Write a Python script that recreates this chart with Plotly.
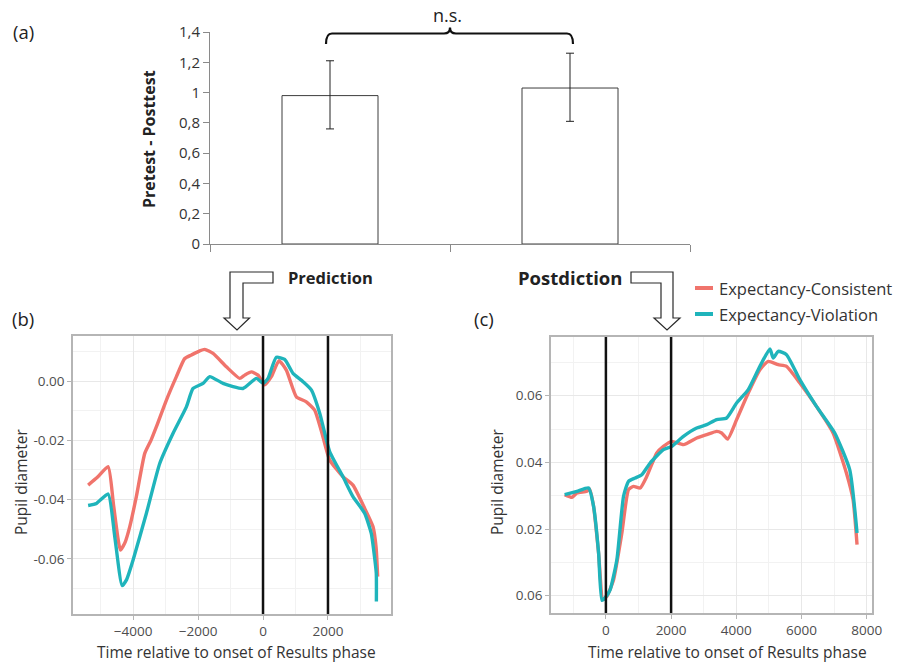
import plotly.graph_objects as go

W, H = 899, 663

# ---------------- data ----------------
# Panel (a)
conditions = ["Prediction", "Postdiction"]
diff_mean = [0.98, 1.03]
diff_upper = [1.21, 1.26]
diff_lower = [0.76, 0.81]
a_tickvals = [0, 0.2, 0.4, 0.6, 0.8, 1.0, 1.2, 1.4]
a_ticktext = ["0", "0,2", "0,4", "0,6", "0,8", "1", "1,2", "1,4"]
sig_label = "n.s."

series_names = ["Expectancy-Consistent", "Expectancy-Violation"]
series_colors = ["#F0746C", "#1FB4BB"]

# Panel (b) - Prediction
b_cons_t = [-5384, -5100, -4769, -4600, -4390, -4250, -4102, -3900, -3641, -3450, -3282,
            -2974, -2667, -2410, -2205, -1950, -1795, -1538, -1128, -718, -564, -359,
            -154, 51, 256, 492, 718, 1026, 1333, 1590, 1800, 2051, 2462, 2769, 3128,
            3385, 3480, 3530]
b_cons_y = [-0.0351, -0.0325, -0.0289, -0.0420, -0.0570, -0.0545, -0.0491, -0.0390,
            -0.0244, -0.0200, -0.0154, -0.0064, 0.0015, 0.0076, 0.0088, 0.0102, 0.0107,
            0.0093, 0.0048, 0.0009, 0.0020, 0.0031, 0.0020, -0.0013, 0.0015, 0.0069,
            0.0037, -0.0053, -0.0070, -0.0098, -0.0170, -0.0266, -0.0323, -0.0351,
            -0.0429, -0.0491, -0.0560, -0.0660]
b_viol_t = [-5384, -5128, -4769, -4564, -4338, -4200, -4000, -3590, -3180, -2769, -2359,
            -2154, -1846, -1641, -1231, -615, -205, 0, 154, 410, 667, 923, 1231, 1487,
            1750, 2051, 2462, 2769, 3128, 3333, 3440, 3487, 3490]
b_viol_y = [-0.0420, -0.0413, -0.0381, -0.0525, -0.0690, -0.0670, -0.0604, -0.0446,
            -0.0278, -0.0176, -0.0087, -0.0025, -0.0008, 0.0015, -0.0008, -0.0025,
            0.0009, -0.0008, 0.0009, 0.0080, 0.0073, 0.0026, -0.0002, -0.0030, -0.0110,
            -0.0238, -0.0323, -0.0390, -0.0446, -0.0514, -0.0600, -0.0649, -0.0744]
b_xticks = [-4000, -2000, 0, 2000]
b_yticks = [0.0, -0.02, -0.04, -0.06]
b_yticktext = ["0.00", "-0.02", "-0.04", "-0.06"]

# Panel (c) - Postdiction
c_cons_t = [-1265, -1041, -888, -582, -500, -378, -224, -92, 31, 235, 490, 694, 847,
            1051, 1255, 1561, 1765, 2020, 2378, 2786, 3092, 3398, 3551, 3735, 4010,
            4367, 4724, 4980, 5286, 5541, 5949, 6459, 6969, 7378, 7582, 7704]
c_cons_y = [0.0303, 0.0295, 0.0308, 0.0313, 0.0320, 0.0268, 0.0128, -0.0012, -0.0002,
            0.0048, 0.0188, 0.0318, 0.0328, 0.0323, 0.0358, 0.0428, 0.0448, 0.0463,
            0.0453, 0.0473, 0.0483, 0.0493, 0.0488, 0.0470, 0.0528, 0.0608, 0.0678,
            0.0703, 0.0693, 0.0688, 0.0638, 0.0568, 0.0488, 0.0368, 0.0288, 0.0153]
c_viol_t = [-1265, -888, -531, -378, -224, -122, 10, 133, 337, 541, 694, 898, 1102,
            1357, 1765, 2020, 2378, 2786, 3092, 3398, 3704, 4010, 4367, 4724, 5031,
            5133, 5286, 5541, 5949, 6459, 7020, 7479, 7704]
c_viol_y = [0.0303, 0.0313, 0.0323, 0.0268, 0.0128, -0.0014, -0.0002, 0.0018, 0.0108,
            0.0298, 0.0343, 0.0353, 0.0363, 0.0398, 0.0438, 0.0448, 0.0478, 0.0503,
            0.0513, 0.0528, 0.0533, 0.0578, 0.0618, 0.0688, 0.0740, 0.0713, 0.0733,
            0.0723, 0.0648, 0.0568, 0.0488, 0.0378, 0.0188]
c_xticks = [0, 2000, 4000, 6000, 8000]
c_yticks = [0.0, 0.02, 0.04, 0.06]
c_yticktext = ["0.06", "0.02", "0.04", "0.06"]

phase_bounds = [0, 2000]
x_title = "Time relative to onset of Results phase"
y_title = "Pupil diameter"

# ---------------- helpers ----------------
def X(px):
    return px / W

def Y(py):
    return 1 - py / H

FONT = "Open Sans"
TICKCOL = "#4d4d4d"

fig = go.Figure()

# Panel (a) bars
fig.add_trace(go.Bar(
    x=conditions, y=diff_mean, xaxis="x", yaxis="y", width=0.4,
    marker=dict(color="white", line=dict(color="#3c3c3c", width=1)),
    error_y=dict(type="data", symmetric=False,
                 array=[u - m for u, m in zip(diff_upper, diff_mean)],
                 arrayminus=[m - l for m, l in zip(diff_mean, diff_lower)],
                 color="#222222", thickness=1, width=4),
    showlegend=False, hoverinfo="skip"))

# Panel (b) and (c) curves
for t, yv, ax, ay in [(b_cons_t, b_cons_y, "x2", "y2"), (c_cons_t, c_cons_y, "x3", "y3")]:
    fig.add_trace(go.Scatter(x=t, y=yv, xaxis=ax, yaxis=ay, mode="lines",
                             line=dict(color=series_colors[0], width=3.4, shape="spline", smoothing=0.5),
                             name=series_names[0], showlegend=False))
for t, yv, ax, ay in [(b_viol_t, b_viol_y, "x2", "y2"), (c_viol_t, c_viol_y, "x3", "y3")]:
    fig.add_trace(go.Scatter(x=t, y=yv, xaxis=ax, yaxis=ay, mode="lines",
                             line=dict(color=series_colors[1], width=3.4, shape="spline", smoothing=0.5),
                             name=series_names[1], showlegend=False))

gg_axis = dict(showline=True, mirror=True, linecolor="#b5b5b5", linewidth=1.5,
               ticks="outside", ticklen=4, tickcolor="#b5b5b5", automargin=False,
               showgrid=True, gridcolor="#e8e8e8", gridwidth=1, zeroline=False,
               tickfont=dict(family=FONT, size=13.5, color=TICKCOL))

layout = dict(
    width=W, height=H, autosize=False, margin=dict(l=0, r=0, t=0, b=0, pad=0),
    paper_bgcolor="white", plot_bgcolor="white", showlegend=False,
    xaxis=dict(domain=[X(210), X(690)], anchor="y", type="category", range=[-0.5, 1.5],
               showline=True, linecolor="#8a8a8a", linewidth=1, ticks="outside",
               tickson="boundaries", ticklen=7, tickcolor="#8a8a8a", automargin=False,
               showticklabels=False, showgrid=False, zeroline=False),
    yaxis=dict(domain=[Y(244), Y(32)], anchor="x", range=[0, 1.4],
               tickvals=a_tickvals, ticktext=a_ticktext, automargin=False,
               showline=True, linecolor="#8a8a8a", linewidth=1, ticks="outside",
               ticklen=6, tickcolor="#8a8a8a", showgrid=False, zeroline=False,
               tickfont=dict(family=FONT, size=15, color="#333333")),
    xaxis2=dict(domain=[X(73), X(391)], anchor="y2", range=[-5850, 3940],
                tickvals=b_xticks, tickformat="d",
                minor=dict(tick0=-5000, dtick=2000, showgrid=True, gridcolor="#f2f2f2", ticks=""),
                **gg_axis),
    yaxis2=dict(domain=[Y(614), Y(336)], anchor="x2", range=[-0.0786, 0.0152],
                tickvals=b_yticks, ticktext=b_yticktext,
                minor=dict(tick0=-0.07, dtick=0.02, showgrid=True, gridcolor="#f2f2f2", ticks=""),
                **gg_axis),
    xaxis3=dict(domain=[X(551), X(872)], anchor="y3", range=[-1684, 8163],
                tickvals=c_xticks, tickformat="d",
                minor=dict(tick0=-1000, dtick=2000, showgrid=True, gridcolor="#f2f2f2", ticks=""),
                **gg_axis),
    yaxis3=dict(domain=[Y(613), Y(337)], anchor="x3", range=[-0.0052, 0.0776],
                tickvals=c_yticks, ticktext=c_yticktext,
                minor=dict(tick0=0.01, dtick=0.02, showgrid=True, gridcolor="#f2f2f2", ticks=""),
                **gg_axis),
)
fig.update_layout(**layout)

shapes = []
# phase boundary lines
for ax, ay in [("x2", "y2"), ("x3", "y3")]:
    for xb in phase_bounds:
        shapes.append(dict(type="line", xref=ax, yref=f"{ay} domain", x0=xb, x1=xb, y0=0, y1=1,
                           line=dict(color="#111111", width=2.5), layer="above"))

def path(pts, close=True):
    s = "M " + " L ".join(f"{X(px):.5f},{Y(py):.5f}" for px, py in pts)
    return s + (" Z" if close else "")

# outline arrows
arrow1 = [(230, 272), (273, 272), (273, 283), (243, 283), (243, 318), (249.5, 318),
          (237, 330), (224, 318), (230, 318)]
arrow2 = [(631, 272), (673, 272), (673, 318), (680, 318), (667, 330), (654, 318),
          (661, 318), (661, 283), (631, 283)]
for pts in (arrow1, arrow2):
    shapes.append(dict(type="path", xref="paper", yref="paper", path=path(pts),
                       line=dict(color="#2a2a2a", width=1.2), fillcolor="white"))

# significance brace
def P(px, py):
    return f"{X(px):.5f},{Y(py):.5f}"
brace = (f"M {P(326,44)} Q {P(326,33.5)} {P(332,33.5)} L {P(444,33.5)} "
         f"Q {P(450,33.5)} {P(450,27.5)} Q {P(450,33.5)} {P(456,33.5)} "
         f"L {P(567,33.5)} Q {P(573,33.5)} {P(573,44)}")
shapes.append(dict(type="path", xref="paper", yref="paper", path=brace,
                   line=dict(color="#111111", width=2.2)))

# manual legend keys
for i, col in enumerate(series_colors):
    yy = 288 + i * 26
    shapes.append(dict(type="line", xref="paper", yref="paper", x0=X(695), x1=X(713),
                       y0=Y(yy), y1=Y(yy), line=dict(color=col, width=4)))

fig.update_layout(shapes=shapes)

ann = []
def text(px, py, s, size, bold=False, xanchor="center", angle=0, color="#222222", family=FONT):
    ann.append(dict(xref="paper", yref="paper", x=X(px), y=Y(py), text=f"<b>{s}</b>" if bold else s,
                    showarrow=False, xanchor=xanchor, yanchor="middle", textangle=angle,
                    font=dict(family=family, size=size, color=color)))

text(23, 31, "(a)", 18.5)
text(23, 318, "(b)", 18.5)
text(484, 318, "(c)", 18.5)
text(447, 15, sig_label, 18)
text(149, 139, "Pretest - Posttest", 16, bold=True, angle=-90)
# category labels under panel (a)
for cat, size in zip(conditions, [16.5, 18.5]):
    ann.append(dict(xref="x", yref="paper", x=cat, y=Y(277), text=f"<b>{cat}</b>", showarrow=False,
                    xanchor="center", yanchor="middle", font=dict(family=FONT, size=size, color="#222222")))
# axis titles of (b) and (c)
text(236, 652, x_title, 15.5, color="#333333")
text(727, 652, x_title, 15.5, color="#333333")
text(21, 482, y_title, 15.5, angle=-90, color="#333333")
text(497, 482, y_title, 15.5, angle=-90, color="#333333")
# legend labels
for i, name in enumerate(series_names):
    text(717, 288 + i * 26, name, 16.5, xanchor="left", color="#333333")

fig.update_layout(annotations=ann)
fig.write_html("out.html", config={"displayModeBar": False, "responsive": False},
               post_script="document.body.style.margin='0';document.body.style.overflow='hidden';")
